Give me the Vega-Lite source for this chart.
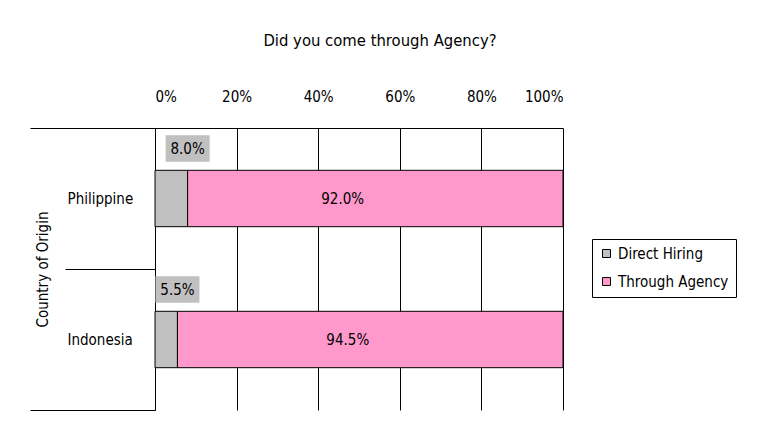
{
  "$schema": "https://vega.github.io/schema/vega-lite/v6.json",
  "width": 408,
  "height": 282,
  "autosize": {"type": "none"},
  "padding": {"left": 155, "top": 128, "right": 200, "bottom": 20},
  "background": "white",
  "title": {
    "text": "Did you come through Agency?",
    "fontSize": 16.5,
    "fontWeight": "normal",
    "color": "black",
    "anchor": "middle",
    "dx": 21,
    "offset": 40
  },
  "data": {
    "values": [
      {"country": "Philippine", "type": "Direct Hiring", "pct": 8.0, "label": "8.0%"},
      {"country": "Philippine", "type": "Through Agency", "pct": 92.0, "label": "92.0%"},
      {"country": "Indonesia", "type": "Direct Hiring", "pct": 5.5, "label": "5.5%"},
      {"country": "Indonesia", "type": "Through Agency", "pct": 94.5, "label": "94.5%"}
    ]
  },
  "encoding": {
    "y": {
      "field": "country",
      "type": "nominal",
      "sort": ["Philippine", "Indonesia"],
      "scale": {"paddingInner": 0, "paddingOuter": 0},
      "axis": {
        "title": "Country of Origin",
        "titleFontSize": 15,
        "titleFontWeight": "normal",
        "titleColor": "black",
        "titleX": -113,
        "titleY": 141,
        "titleAngle": -90,
        "titleAlign": "center",
        "titleBaseline": "middle",
        "domainColor": "black",
        "tickColor": "black",
        "tickBand": "extent",
        "tickSize": {"condition": {"test": "datum.value === 'Philippine' && !datum.extra", "value": 90}, "value": 125},
        "labelPadding": {"condition": {"test": "datum.value === 'Philippine'", "value": -2}, "value": -37},
        "labelAlign": "left",
        "labelFontSize": 15,
        "labelColor": "black",
        "grid": false
      }
    }
  },
  "layer": [
    {
      "mark": {"type": "bar", "stroke": "black", "strokeWidth": 1, "height": {"band": 0.4}},
      "encoding": {
        "x": {
          "field": "pct",
          "type": "quantitative",
          "stack": "zero",
          "scale": {"domain": [0, 100], "nice": false},
          "axis": {
            "orient": "top",
            "title": null,
            "values": [0, 20, 40, 60, 80, 100],
            "labelExpr": "datum.value + '%'",
            "ticks": false,
            "domain": true,
            "domainColor": "black",
            "grid": true,
            "gridColor": "black",
            "gridOpacity": 1,
            "gridWidth": 1,
            "labelPadding": 24,
            "labelFontSize": 15,
            "labelColor": "black"
          }
        },
        "color": {
          "field": "type",
          "type": "nominal",
          "scale": {"domain": ["Direct Hiring", "Through Agency"], "range": ["#C0C0C0", "#FF99CC"]},
          "legend": {
            "orient": "none",
            "legendX": 437,
            "legendY": 111,
            "title": null,
            "strokeColor": "black",
            "fillColor": "white",
            "padding": 7,
            "symbolType": "square",
            "symbolSize": 64,
            "symbolStrokeColor": "black",
            "symbolStrokeWidth": 1,
            "symbolOpacity": 1,
            "labelFontSize": 15,
            "labelColor": "black",
            "labelOffset": 4,
            "rowPadding": 12
          }
        },
        "order": {"field": "type", "sort": "ascending"}
      }
    },
    {
      "transform": [{"filter": "datum.type === 'Direct Hiring'"}],
      "mark": {"type": "point", "shape": "M-1,-0.6H1V0.6H-1Z", "size": 1936, "filled": true, "fill": "#C0C0C0", "opacity": 1, "strokeWidth": 0, "yOffset": -50},
      "encoding": {
        "x": {"field": "pct", "type": "quantitative"}
      }
    },
    {
      "transform": [{"filter": "datum.type === 'Direct Hiring'"}],
      "mark": {"type": "text", "fontSize": 15, "color": "black", "align": "center", "baseline": "middle", "yOffset": -50},
      "encoding": {
        "x": {"field": "pct", "type": "quantitative"},
        "text": {"field": "label"}
      }
    },
    {
      "transform": [
        {"filter": "datum.type === 'Through Agency'"},
        {"calculate": "datum.pct / 2", "as": "mid"}
      ],
      "mark": {"type": "text", "fontSize": 15, "color": "black", "align": "center", "baseline": "middle"},
      "encoding": {
        "x": {"field": "mid", "type": "quantitative"},
        "text": {"field": "label"}
      }
    }
  ],
  "config": {
    "font": "Liberation Sans Narrow, DejaVu Sans Condensed, sans-serif",
    "view": {"stroke": null}
  }
}
